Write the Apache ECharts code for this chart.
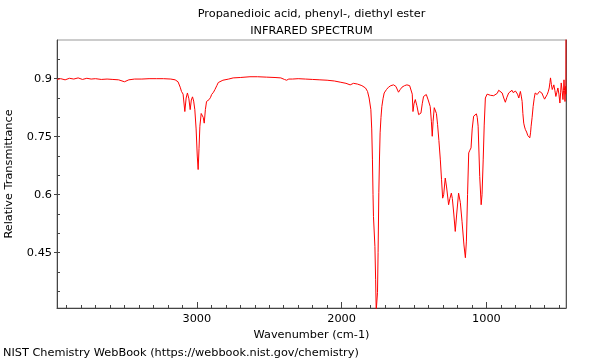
<!DOCTYPE html>
<html>
<head>
<meta charset="utf-8">
<script src="https://cdn.jsdelivr.net/npm/echarts@6/dist/echarts.min.js"></script>
<style>html,body{margin:0;padding:0;background:#fff}#c{width:600px;height:360px}</style>
</head>
<body>
<div id="c"></div>
<script>
const titleLine1 = 'Propanedioic acid, phenyl-, diethyl ester';
const titleLine2 = 'INFRARED SPECTRUM';
const footer = 'NIST Chemistry WebBook (https://webbook.nist.gov/chemistry)';
const xName = 'Wavenumber (cm-1)';
const yName = 'Relative Transmittance';

const wavenumber = [3966,3940,3910,3880,3850,3820,3790,3760,3730,3700,3660,3620,3580,3540,3500,3470,3430,3380,3330,3280,3230,3180,3150,3130,3115,3106,3095,3083,3074,3065,3055,3046,3038,3030,3022,3014,3005,2997,2991,2985,2979,2970,2963,2956,2949,2941,2933,2925,2915,2905,2898,2885,2875,2862,2852,2820,2780,2749,2700,2633,2580,2520,2460,2420,2395,2380,2365,2340,2300,2250,2200,2150,2100,2050,2010,1970,1941,1918,1890,1860,1849,1835,1821,1810,1798,1792,1787,1783,1780,1770,1765,1761,1757,1752,1748,1743,1738,1734,1728,1722,1714,1706,1690,1676,1660,1641,1625,1607,1595,1583,1565,1549,1530,1519,1512,1507,1500,1491,1480,1468,1460,1452,1443,1434,1425,1415,1402,1388,1380,1374,1368,1360,1353,1345,1337,1328,1318,1310,1302,1295,1284,1275,1261,1252,1242,1235,1225,1215,1205,1192,1180,1168,1155,1145,1138,1130,1122,1114,1106,1098,1088,1078,1069,1063,1057,1046,1036,1030,1022,1015,1007,995,984,972,961,950,938,925,915,903,891,880,869,858,846,835,823,815,806,799,792,785,776,770,765,759,753,748,742,736,730,722,714,707,700,695,691,684,677,670,663,656,649,641,633,625,617,608,598,590,580,573,566,561,557,551,545,539,534,527,520,513,506,499,492,487,483,477,471,467,464,460,457,453,451,450];
const transmittance = [0.898,0.900,0.897,0.901,0.899,0.902,0.898,0.901,0.899,0.900,0.898,0.899,0.898,0.897,0.892,0.897,0.899,0.899,0.900,0.900,0.900,0.899,0.897,0.892,0.878,0.867,0.860,0.815,0.850,0.863,0.848,0.820,0.845,0.853,0.842,0.820,0.770,0.700,0.665,0.720,0.777,0.810,0.815,0.800,0.785,0.820,0.841,0.838,0.846,0.852,0.859,0.865,0.872,0.882,0.890,0.896,0.899,0.902,0.903,0.905,0.905,0.904,0.903,0.902,0.898,0.896,0.899,0.899,0.900,0.899,0.898,0.897,0.896,0.894,0.891,0.888,0.884,0.888,0.886,0.882,0.880,0.876,0.867,0.850,0.820,0.770,0.690,0.600,0.544,0.466,0.380,0.300,0.300,0.347,0.450,0.605,0.700,0.760,0.800,0.828,0.848,0.863,0.872,0.878,0.882,0.884,0.880,0.865,0.872,0.878,0.882,0.884,0.882,0.880,0.860,0.815,0.835,0.846,0.830,0.807,0.808,0.811,0.835,0.854,0.858,0.859,0.845,0.828,0.790,0.751,0.790,0.825,0.828,0.810,0.781,0.740,0.690,0.640,0.591,0.600,0.643,0.620,0.574,0.590,0.604,0.590,0.550,0.505,0.550,0.604,0.580,0.530,0.470,0.437,0.480,0.600,0.708,0.715,0.721,0.770,0.803,0.808,0.809,0.800,0.777,0.647,0.574,0.600,0.690,0.780,0.850,0.860,0.863,0.857,0.854,0.856,0.854,0.862,0.870,0.866,0.863,0.850,0.839,0.852,0.863,0.866,0.870,0.864,0.863,0.868,0.870,0.860,0.850,0.860,0.867,0.855,0.841,0.810,0.785,0.775,0.768,0.762,0.753,0.750,0.747,0.760,0.777,0.800,0.828,0.848,0.863,0.862,0.859,0.862,0.867,0.866,0.863,0.855,0.847,0.852,0.859,0.866,0.876,0.890,0.902,0.885,0.872,0.878,0.884,0.870,0.854,0.865,0.876,0.860,0.837,0.865,0.889,0.870,0.846,0.870,0.897,0.870,0.841,0.880,0.860,1.050];

const xMajorTicks = [1000,2000,3000];
const xMinorTicks = [500,600,700,800,900,1000,1100,1200,1300,1400,1500,1600,1700,1800,1900,2000,2100,2200,2300,2400,2500,2600,2700,2800,2900,3000,3100,3200,3300,3400,3500,3600,3700,3800,3900];
const yMajorTicks = [0.45,0.6,0.75,0.9];
const yMinorTicks = [0.35,0.4,0.45,0.5,0.55,0.6,0.65,0.7,0.75,0.8,0.85,0.9,0.95];

const xMin = 450, xMax = 3966, yMin = 0.307, yMax = 1.0;

const seriesData = wavenumber.map((w, i) => [w, transmittance[i]]);
const font = 'DejaVu Sans';
const fs = 11.3;
const axisColor = '#444';

const chart = echarts.init(document.getElementById('c'), null, {renderer: 'canvas'});
chart.setOption({
  animation: false,
  backgroundColor: '#fff',
  textStyle: {fontFamily: font},
  title: [
    {text: titleLine1, left: 311.5, top: 9, padding: 0, textAlign: 'center', textStyle: {fontFamily: font, fontSize: fs, fontWeight: 'normal', color: '#000'}},
    {text: titleLine2, left: 311.5, top: 26, padding: 0, textAlign: 'center', textStyle: {fontFamily: font, fontSize: fs, fontWeight: 'normal', color: '#000'}},
    {text: footer, left: 3, top: 348, padding: 0, textStyle: {fontFamily: font, fontSize: fs, fontWeight: 'normal', color: '#000'}}
  ],
  grid: {left: 57, right: 34, top: 40, bottom: 52, show: true, borderColor: '#999', borderWidth: 1, containLabel: false, outerBoundsMode: 'none'},
  xAxis: [
    {
      type: 'value', inverse: true, min: xMin, max: xMax, position: 'bottom',
      name: xName, nameLocation: 'middle', nameGap: 15,
      nameTextStyle: {fontFamily: font, fontSize: fs, color: '#000'},
      axisLine: {show: true, lineStyle: {color: axisColor, width: 1}},
      axisTick: {show: true, inside: true, length: 3, customValues: xMinorTicks, lineStyle: {color: axisColor}},
      axisLabel: {show: true, customValues: xMajorTicks, formatter: v => String(v), margin: 6, fontFamily: font, fontSize: fs, color: '#000'},
      splitLine: {show: false}
    },
    {
      type: 'value', inverse: true, min: xMin, max: xMax, position: 'bottom',
      axisLine: {show: false},
      axisTick: {show: true, inside: true, length: 6, customValues: xMajorTicks, lineStyle: {color: axisColor}},
      axisLabel: {show: false},
      splitLine: {show: false}
    }
  ],
  yAxis: [
    {
      type: 'value', min: yMin, max: yMax, position: 'left',
      name: yName, nameLocation: 'middle', nameGap: 42,
      nameTextStyle: {fontFamily: font, fontSize: fs, color: '#000'},
      axisLine: {show: true, lineStyle: {color: axisColor, width: 1}},
      axisTick: {show: true, inside: true, length: 3, customValues: yMinorTicks, lineStyle: {color: axisColor}},
      axisLabel: {show: true, customValues: yMajorTicks, formatter: v => String(v), margin: 5, fontFamily: font, fontSize: fs, color: '#000'},
      splitLine: {show: false}
    },
    {
      type: 'value', min: yMin, max: yMax, position: 'left',
      axisLine: {show: false},
      axisTick: {show: true, inside: false, length: 3, customValues: yMajorTicks, lineStyle: {color: axisColor}},
      axisLabel: {show: false},
      splitLine: {show: false}
    },
    {
      type: 'value', min: yMin, max: yMax, position: 'right',
      axisLine: {show: true, lineStyle: {color: '#555', width: 1}},
      axisTick: {show: false},
      axisLabel: {show: false},
      splitLine: {show: false}
    }
  ],
  series: [{
    type: 'line', xAxisIndex: 0, yAxisIndex: 0,
    data: seriesData, showSymbol: false, symbol: 'none', clip: true,
    lineStyle: {color: '#ff0000', width: 1}
  }]
});
</script>
</body>
</html>
